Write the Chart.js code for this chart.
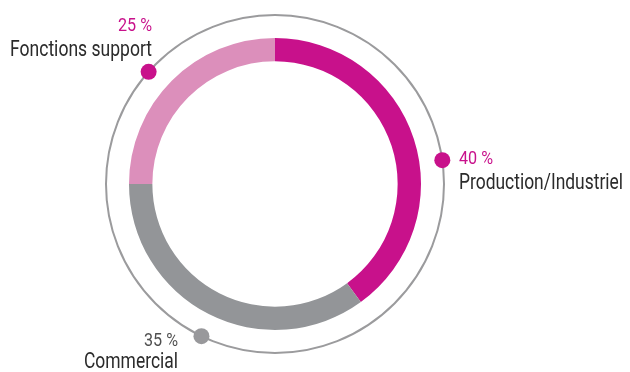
<!DOCTYPE html>
<html lang="fr">
<head>
  <meta charset="UTF-8" />
  <title>Répartition des effectifs</title>
  <script src="https://cdn.jsdelivr.net/npm/chart.js"></script>
  <style>
    html, body {
      margin: 0;
      padding: 0;
      background-color: #ffffff;
    }
    #chart-container {
      position: relative;
      width: 630px;
      height: 372px;
    }
  </style>
</head>
<body>
  <div id="chart-container">
    <canvas id="splitChart"></canvas>
  </div>

  <script>
    const categories = ['Production/Industriel', 'Commercial', 'Fonctions support'];
    const shares = [40, 35, 25];
    const sliceColors = ['#c8118b', '#939598', '#dc8fbb'];
    const dotColors = ['#c8118b', '#98989b', '#c8118b'];

    const MAGENTA = '#c8118b';
    const TEXT_DARK = '#2b2b2b';

    // Label layout: anchor point, alignment, dot nudge along the outer ring (degrees)
    const labelLayout = [
      { x: 459, pctY: 164, nameY: 189, align: 'left', width: 164, nudge: 9.9 },
      { x: 178, pctY: 346, nameY: 368, align: 'right', width: 94, nudge: -1.2 },
      { x: 152, pctY: 31, nameY: 56, align: 'right', width: 142, nudge: -3.4 }
    ];

    // Thin ring around the doughnut with a dot and a label for each slice
    Chart.register({
      id: 'outerRingLabels',
      afterDraw(chart) {
        const ctx = chart.ctx;
        const meta = chart.getDatasetMeta(0);
        const first = meta.data[0];
        const cx = first.x;
        const cy = first.y;
        const ringR = first.outerRadius + 23;

        ctx.save();
        ctx.beginPath();
        ctx.arc(cx, cy, ringR, 0, Math.PI * 2);
        ctx.lineWidth = 2;
        ctx.strokeStyle = '#9b9b9d';
        ctx.stroke();

        meta.data.forEach((arc, i) => {
          const layout = labelLayout[i];
          const mid = (arc.startAngle + arc.endAngle) / 2 + layout.nudge * Math.PI / 180;
          ctx.beginPath();
          ctx.arc(cx + Math.cos(mid) * ringR, cy + Math.sin(mid) * ringR, 8, 0, Math.PI * 2);
          ctx.fillStyle = dotColors[i];
          ctx.fill();

          ctx.textAlign = layout.align;
          ctx.textBaseline = 'alphabetic';
          ctx.fillStyle = i === 1 ? '#4f4f4f' : MAGENTA;
          ctx.font = '19px Roboto, sans-serif';
          ctx.fillText(shares[i] + ' %', layout.x, layout.pctY, 34);

          ctx.fillStyle = TEXT_DARK;
          ctx.font = '22px Roboto, sans-serif';
          ctx.fillText(categories[i], layout.x, layout.nameY, layout.width);
        });
        ctx.restore();
      }
    });

    const ctx = document.getElementById('splitChart').getContext('2d');

    const config = {
      type: 'doughnut',
      data: {
        labels: categories,
        datasets: [{
          data: shares,
          backgroundColor: sliceColors,
          borderWidth: 0,
          hoverOffset: 0
        }]
      },
      options: {
        responsive: true,
        maintainAspectRatio: false,
        animation: false,
        cutout: '84%',
        rotation: 0,
        layout: {
          padding: { left: 129, right: 209, top: 38, bottom: 42 }
        },
        plugins: {
          legend: { display: false },
          tooltip: { enabled: false }
        }
      }
    };

    new Chart(ctx, config);
  </script>
</body>
</html>
